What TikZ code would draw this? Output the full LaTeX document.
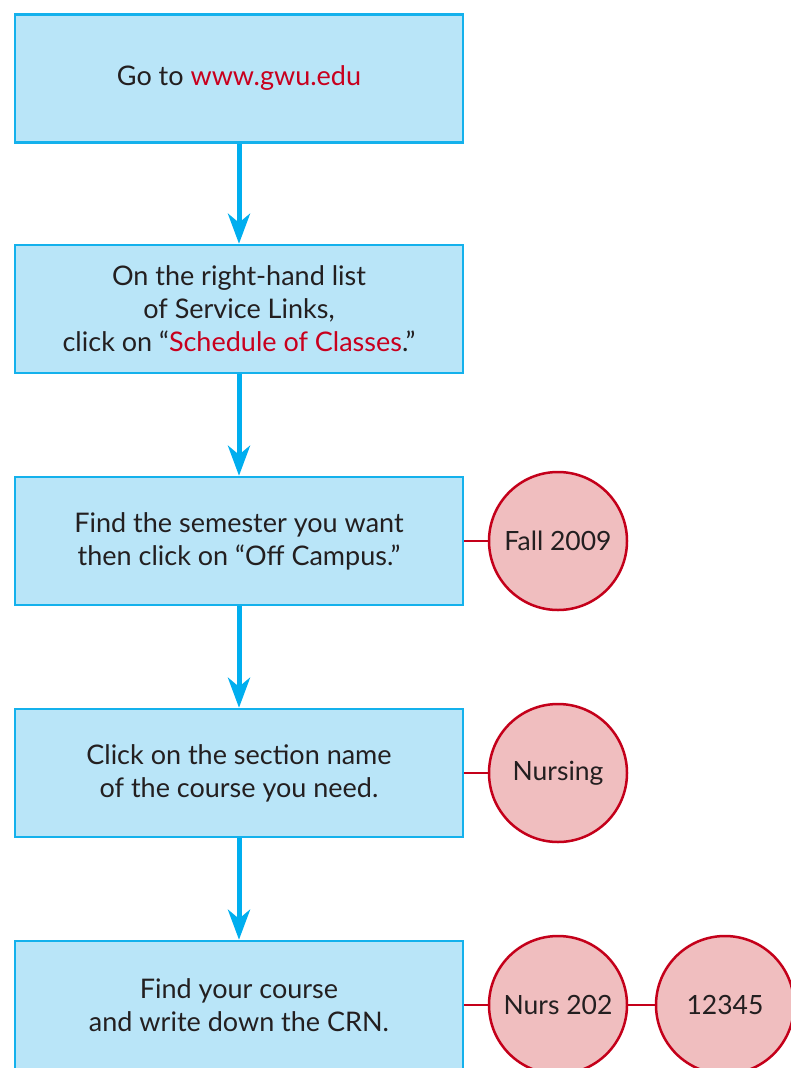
\documentclass[tikz,border=0pt]{standalone}
\usepackage{fontspec}
\setmainfont{Lato}
\usetikzlibrary{arrows.meta}
\definecolor{boxfill}{HTML}{B9E5F8}
\definecolor{boxline}{HTML}{14B1EC}
\definecolor{arrowc}{HTML}{00AEEF}
\definecolor{redline}{HTML}{C4001A}
\definecolor{circfill}{HTML}{F0BEBF}
\definecolor{txt}{HTML}{231F20}
\definecolor{redtxt}{HTML}{C8001E}
\begin{document}
\begin{tikzpicture}[x=1pt,y=-1pt,
  stepbox/.style={draw=boxline,line width=2.5pt,fill=boxfill,minimum width=448pt,minimum height=128pt,
    align=center,text=txt,font=\fontsize{27}{33}\selectfont,inner sep=0pt},
  tag/.style={circle,draw=redline,line width=2.5pt,fill=circfill,minimum size=138pt,inner sep=0pt,
    text=txt,font=\fontsize{26.5}{33}\selectfont},
  flow/.style={draw=arrowc,line width=5pt,-{Stealth[length=30pt,width=22pt,inset=9pt]}},
  link/.style={draw=redline,line width=2.2pt}]
\useasboundingbox (0,0) rectangle (790,1068);
\node[stepbox] (b1) at (239,78.5) {Go to \textcolor{redtxt}{www.gwu.edu}};
\node[stepbox] (b2) at (239,309) {On the right-hand list\\of Service Links,\\click on ``\textcolor{redtxt}{Schedule of Classes}.''};
\node[stepbox] (b3) at (239,541) {Find the semester you want\\then click on ``Off Campus.''};
\node[stepbox] (b4) at (239,773) {Click on the section name\\of the course you need.};
\node[stepbox] (b5) at (239,1005) {Find your course\\and write down the CRN.};
\node[tag] (c1) at (558,541) {Fall 2009};
\node[tag] (c2) at (558,773) {Nursing};
\node[tag] (c3) at (558,1005) {Nurs 202};
\node[tag] (c4) at (725,1005) {12345};
\draw[flow] (b1.south) -- (b2.north);
\draw[flow] (b2.south) -- (b3.north);
\draw[flow] (b3.south) -- (b4.north);
\draw[flow] (b4.south) -- (b5.north);
\draw[link] (b3.east) -- (c1.west);
\draw[link] (b4.east) -- (c2.west);
\draw[link] (b5.east) -- (c3.west);
\draw[link] (c3.east) -- (c4.west);
\end{tikzpicture}
\end{document}
